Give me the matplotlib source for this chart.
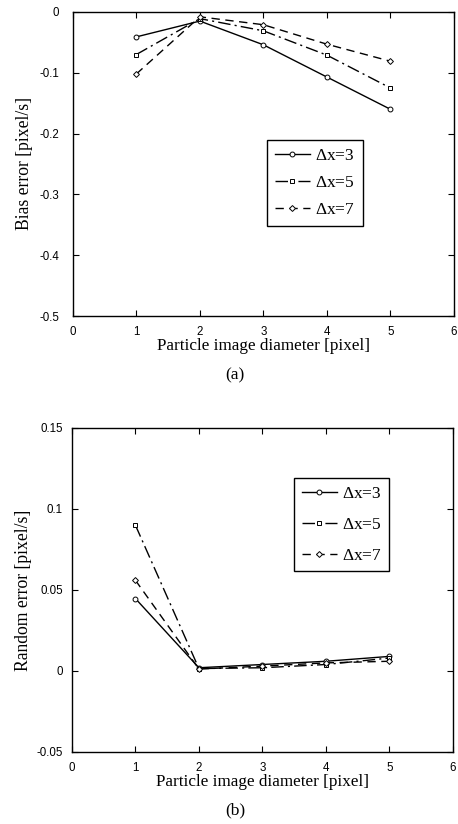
import numpy as np
from matplotlib import pyplot as plt

plt.rcParams['axes.unicode_minus'] = False

diameter = [1, 2, 3, 4, 5]

# bias error [pixel/s]
bias_dx3 = [-0.041, -0.015, -0.054, -0.107, -0.160]
bias_dx5 = [-0.070, -0.011, -0.031, -0.071, -0.125]
bias_dx7 = [-0.102, -0.008, -0.021, -0.053, -0.081]

# random error [pixel/s]
rand_dx3 = [0.0447, 0.002, 0.004, 0.006, 0.009]
rand_dx5 = [0.090, 0.0015, 0.002, 0.004, 0.008]
rand_dx7 = [0.056, 0.0012, 0.003, 0.005, 0.006]

labels = [r'$\Delta$x=3', r'$\Delta$x=5', r'$\Delta$x=7']
markers = ['o', 's', 'D']
styles = ['-', (0, (9, 3, 1.5, 3)), (0, (6, 4))]

serif = 'Liberation Serif'
sans = 'Liberation Sans'
plt.rcParams['mathtext.fontset'] = 'custom'
plt.rcParams['mathtext.rm'] = serif
plt.rcParams['mathtext.it'] = serif + ':italic'


def draw_panel(ax, series, ylim, yticks, ylabel, legend_box, spacing, ypad, lpad):
    for vals, lab, mk, ls in zip(series, labels, markers, styles):
        ax.plot(diameter, vals, color='black', lw=1.0, linestyle=ls,
                marker=mk, markersize=3.5 if mk != 'D' else 3,
                markerfacecolor='white', markeredgewidth=0.7, label=lab)
    ax.set_xlim(0, 6)
    ax.set_ylim(*ylim)
    ax.set_xticks(range(0, 7))
    ax.set_yticks(yticks)
    ax.tick_params(direction='in', top=True, right=True, length=4, width=0.8,
                   labelsize=8.3)
    ax.tick_params(axis='x', pad=7)
    ax.tick_params(axis='y', pad=ypad)
    for t in ax.get_xticklabels() + ax.get_yticklabels():
        t.set_fontfamily(sans)
    ax.set_xlabel('Particle image diameter [pixel]', fontfamily=serif, fontsize=12.3, labelpad=0)
    ax.set_ylabel(ylabel, fontfamily=serif, fontsize=12.7, labelpad=lpad)
    for sp in ax.spines.values():
        sp.set_linewidth(1.0)
    leg = ax.legend(loc='upper left', bbox_to_anchor=legend_box, frameon=True,
                    fancybox=False, edgecolor='black', framealpha=1,
                    prop={'family': serif, 'size': 12.5}, handlelength=2.0,
                    handletextpad=0.3, labelspacing=spacing, borderpad=0.45,
                    borderaxespad=0)
    leg.get_frame().set_linewidth(1.0)


fig = plt.figure(figsize=(4.58, 8.24), dpi=100)

ax_a = fig.add_axes([0.159, 0.6165, 0.832, 0.369])
draw_panel(ax_a, [bias_dx3, bias_dx5, bias_dx7], (-0.5, 0),
           [-0.5, -0.4, -0.3, -0.2, -0.1, 0], 'Bias error [pixel/s]',
           (0.510, 0.579), 0.62, 10, 4.5)
ax_a.set_yticklabels(['-0.5', '-0.4', '-0.3', '-0.2', '-0.1', '0'])

ax_b = fig.add_axes([0.157, 0.0874, 0.832, 0.3932])
draw_panel(ax_b, [rand_dx3, rand_dx5, rand_dx7], (-0.05, 0.15),
           [-0.05, 0, 0.05, 0.1, 0.15], 'Random error [pixel/s]',
           (0.583, 0.846), 0.85, 6.5, 3)
ax_b.set_yticklabels(['-0.05', '0', '0.05', '0.1', '0.15'])

fig.text(0.513, 0.545, '(a)', ha='center', va='center', fontfamily=serif, fontsize=12.5)
fig.text(0.513, 0.017, '(b)', ha='center', va='center', fontfamily=serif, fontsize=12.5)

fig.savefig('out.png', dpi=100)
